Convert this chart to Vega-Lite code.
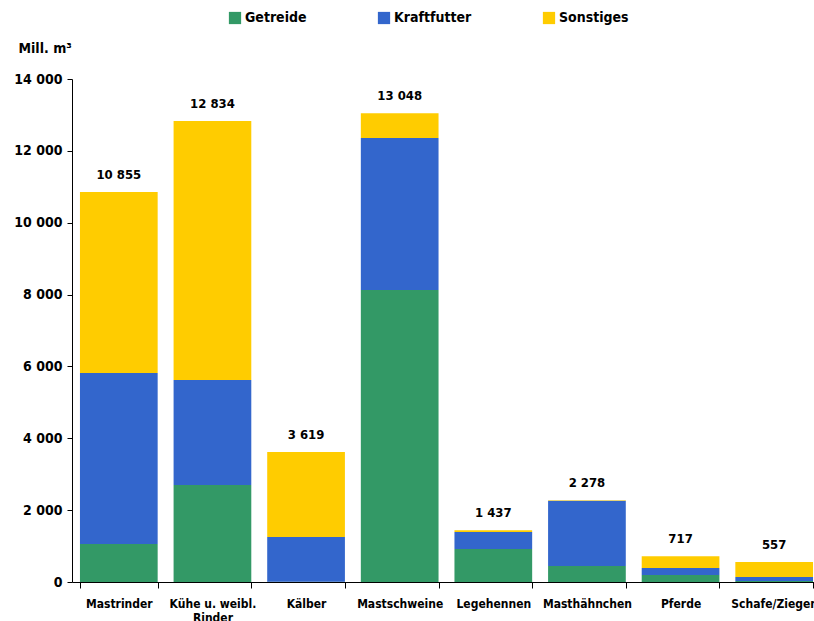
{
  "$schema": "https://vega.github.io/schema/vega-lite/v6.json",
  "autosize": {"type": "none"},
  "padding": {"left": 72, "top": 79, "right": 0, "bottom": 39},
  "width": 749,
  "height": 503,
  "config": {
    "locale": {"number": {"decimal": ",", "thousands": " ", "grouping": [3], "currency": ["", " €"]}},
    "font": "DejaVu Sans Condensed",
    "view": {"stroke": null},
    "axis": {"grid": false, "domainColor": "#000000", "tickColor": "#000000", "labelColor": "#000000", "labelFont": "DejaVu Sans Condensed", "labelFontWeight": "bold"}
  },
  "data": {
    "values": [
      {"tier": "Mastrinder", "typ": "Getreide", "wert": 1058},
      {"tier": "Mastrinder", "typ": "Kraftfutter", "wert": 4758},
      {"tier": "Mastrinder", "typ": "Sonstiges", "wert": 5039},
      {"tier": "Kühe u. weibl. Rinder", "typ": "Getreide", "wert": 2700},
      {"tier": "Kühe u. weibl. Rinder", "typ": "Kraftfutter", "wert": 2922},
      {"tier": "Kühe u. weibl. Rinder", "typ": "Sonstiges", "wert": 7212},
      {"tier": "Kälber", "typ": "Getreide", "wert": 10},
      {"tier": "Kälber", "typ": "Kraftfutter", "wert": 1242},
      {"tier": "Kälber", "typ": "Sonstiges", "wert": 2367},
      {"tier": "Mastschweine", "typ": "Getreide", "wert": 8126},
      {"tier": "Mastschweine", "typ": "Kraftfutter", "wert": 4231},
      {"tier": "Mastschweine", "typ": "Sonstiges", "wert": 691},
      {"tier": "Legehennen", "typ": "Getreide", "wert": 918},
      {"tier": "Legehennen", "typ": "Kraftfutter", "wert": 474},
      {"tier": "Legehennen", "typ": "Sonstiges", "wert": 45},
      {"tier": "Masthähnchen", "typ": "Getreide", "wert": 445},
      {"tier": "Masthähnchen", "typ": "Kraftfutter", "wert": 1818},
      {"tier": "Masthähnchen", "typ": "Sonstiges", "wert": 15},
      {"tier": "Pferde", "typ": "Getreide", "wert": 195},
      {"tier": "Pferde", "typ": "Kraftfutter", "wert": 195},
      {"tier": "Pferde", "typ": "Sonstiges", "wert": 327},
      {"tier": "Schafe/Ziegen", "typ": "Getreide", "wert": 30},
      {"tier": "Schafe/Ziegen", "typ": "Kraftfutter", "wert": 109},
      {"tier": "Schafe/Ziegen", "typ": "Sonstiges", "wert": 418}
    ]
  },
  "encoding": {
    "x": {
      "field": "tier", "type": "nominal", "sort": null,
      "scale": {"paddingInner": 0.17, "paddingOuter": 0.085},
      "axis": {
        "title": null, "labelAngle": 0, "labelFontSize": 12, "labelPadding": 10,
        "tickBand": "extent", "tickSize": 6, "labelLimit": 200,
        "labelExpr": "datum.label == 'Kühe u. weibl. Rinder' ? ['Kühe u. weibl.', 'Rinder'] : datum.label"
      }
    }
  },
  "layer": [
    {
      "mark": {"type": "bar"},
      "encoding": {
        "y": {
          "field": "wert", "type": "quantitative", "aggregate": "sum", "stack": "zero",
          "scale": {"domain": [0, 14000], "nice": false},
          "axis": {
            "title": "Mill. m³", "titleAngle": 0, "titleAlign": "left", "titleBaseline": "middle",
            "titleX": -54, "titleY": -31, "titleFontSize": 14, "titleFontWeight": "bold",
            "values": [0, 2000, 4000, 6000, 8000, 10000, 12000, 14000],
            "format": ",d", "labelFontSize": 14, "tickSize": 5, "labelPadding": 5
          }
        },
        "color": {
          "field": "typ", "type": "nominal",
          "scale": {"domain": ["Getreide", "Kraftfutter", "Sonstiges"], "range": ["#339966", "#3366CC", "#FFCC00"]},
          "legend": {
            "title": null, "orient": "none", "direction": "horizontal",
            "legendX": 156, "legendY": -68, "symbolType": "square", "symbolSize": 150,
            "symbolStrokeWidth": 0, "labelFontSize": 14, "labelFontWeight": "bold",
            "labelFont": "DejaVu Sans Condensed", "labelColor": "#000000",
            "columnPadding": 70, "labelOffset": 3
          }
        },
        "order": {"field": "typ", "sort": "ascending"}
      }
    },
    {
      "transform": [{"aggregate": [{"op": "sum", "field": "wert", "as": "total"}], "groupby": ["tier"]}],
      "mark": {"type": "text", "dy": -17, "baseline": "middle", "fontSize": 13, "fontWeight": "bold", "color": "#000000"},
      "encoding": {
        "y": {"field": "total", "type": "quantitative"},
        "text": {"field": "total", "type": "quantitative", "format": ",d"}
      }
    }
  ]
}
